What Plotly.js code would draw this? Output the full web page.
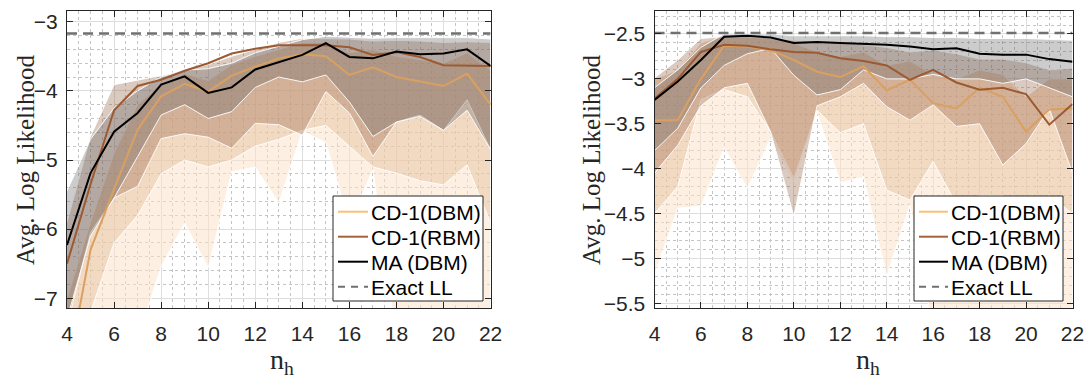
<!DOCTYPE html>
<html><head><meta charset="utf-8">
<script src="https://cdn.plot.ly/plotly-3.0.1.min.js"></script>
<style>html,body{margin:0;padding:0;background:#fff}#chart{width:1086px;height:381px}</style>
</head><body><div id="chart"></div>
<script>
// hidden units n_h
const nh = [4,5,6,7,8,9,10,11,12,13,14,15,16,17,18,19,20,21,22];

// ---------- Left panel ----------
const maL   = [-6.23,-5.19,-4.59,-4.32,-3.91,-3.79,-4.03,-3.95,-3.69,-3.58,-3.48,-3.31,-3.51,-3.53,-3.43,-3.47,-3.46,-3.40,-3.64];
const rbmL  = [-6.50,-5.35,-4.28,-3.93,-3.84,-3.71,-3.60,-3.46,-3.39,-3.34,-3.34,-3.34,-3.37,-3.48,-3.44,-3.51,-3.63,-3.64,-3.64];
const dbmL  = [-8.10,-6.30,-5.42,-4.56,-4.08,-3.90,-4.01,-3.78,-3.65,-3.53,-3.47,-3.50,-3.77,-3.66,-3.80,-3.86,-3.93,-3.75,-4.20];
const maUpL = [-5.45,-4.70,-4.25,-4.00,-3.80,-3.70,-3.68,-3.60,-3.45,-3.35,-3.26,-3.21,-3.23,-3.24,-3.23,-3.23,-3.24,-3.23,-3.25];
const maLoL = [-7.30,-6.10,-5.55,-4.95,-4.35,-4.20,-4.40,-4.30,-3.95,-3.80,-3.87,-3.77,-4.16,-4.66,-4.45,-4.37,-4.57,-4.28,-4.85];
const rbmUpL= [-5.90,-4.66,-3.91,-3.85,-3.78,-3.70,-3.62,-3.50,-3.40,-3.30,-3.24,-3.24,-3.25,-3.28,-3.27,-3.28,-3.30,-3.29,-3.30];
const rbmLoL= [-7.40,-6.05,-5.55,-5.38,-4.69,-4.62,-4.67,-4.83,-4.47,-4.49,-4.64,-4.01,-4.32,-4.95,-4.45,-4.35,-4.57,-4.13,-4.85];
const dbmUpL= [-7.00,-5.90,-4.90,-4.20,-3.90,-3.75,-3.85,-3.62,-3.50,-3.40,-3.30,-3.30,-3.45,-3.40,-3.50,-3.55,-3.60,-3.45,-3.70];
const dbmInLoL=[-8.20,-7.20,-6.20,-5.80,-5.20,-5.00,-5.10,-5.00,-4.80,-4.70,-4.57,-4.50,-4.80,-5.10,-5.19,-5.30,-5.36,-5.07,-5.91];
const dbmOutLoL=[-8.50,-8.50,-8.00,-7.60,-6.54,-5.91,-6.56,-5.17,-5.10,-5.62,-4.58,-4.75,-5.90,-5.14,-7.60,-7.80,-7.80,-7.80,-7.80];
const exactL = -3.17;

// ---------- Right panel ----------
const maR   = [-3.235,-3.03,-2.79,-2.53,-2.52,-2.54,-2.60,-2.59,-2.60,-2.61,-2.62,-2.64,-2.67,-2.66,-2.72,-2.73,-2.73,-2.78,-2.81];
const rbmR  = [-3.22,-3.00,-2.70,-2.62,-2.63,-2.67,-2.70,-2.71,-2.77,-2.80,-2.85,-3.01,-2.90,-3.04,-3.12,-3.10,-3.17,-3.51,-3.28];
const dbmR  = [-3.46,-3.46,-3.00,-2.63,-2.64,-2.68,-2.79,-2.92,-2.98,-2.86,-3.13,-3.01,-3.27,-3.33,-3.10,-3.20,-3.59,-3.34,-3.33];
const maUpR = [-3.10,-2.90,-2.65,-2.50,-2.50,-2.50,-2.52,-2.52,-2.52,-2.52,-2.53,-2.53,-2.54,-2.54,-2.55,-2.55,-2.55,-2.56,-2.57];
const maLoR = [-3.80,-3.55,-3.10,-2.85,-2.72,-2.66,-2.96,-3.18,-3.12,-2.90,-3.00,-3.00,-2.95,-3.00,-3.00,-3.05,-3.00,-3.10,-3.20];
const rbmUpR= [-2.99,-2.79,-2.55,-2.53,-2.53,-2.55,-2.57,-2.58,-2.60,-2.62,-2.65,-2.70,-2.68,-2.72,-2.78,-2.78,-2.82,-2.90,-2.88];
const rbmLoR= [-4.05,-3.74,-3.30,-3.10,-3.05,-3.59,-4.53,-3.30,-3.20,-3.05,-3.31,-3.46,-3.29,-3.53,-3.50,-3.96,-3.72,-3.33,-4.05];
const dbmUpR= [-3.00,-2.90,-2.60,-2.52,-2.52,-2.55,-2.60,-2.70,-2.75,-2.70,-2.85,-2.80,-2.95,-3.00,-2.90,-2.95,-3.20,-3.00,-3.00];
const dbmInLoR=[-4.50,-4.20,-3.23,-3.12,-3.20,-3.59,-4.11,-3.35,-3.60,-3.50,-4.24,-4.35,-3.92,-4.40,-4.30,-4.30,-4.50,-4.30,-4.50];
const dbmOutLoR=[-5.18,-4.44,-4.42,-3.77,-4.22,-3.66,-4.15,-3.37,-4.16,-4.09,-5.20,-4.40,-5.80,-5.80,-5.80,-5.80,-5.80,-5.80,-5.80];
const exactR = -2.49;

const seriesNames = ['CD-1(DBM)','CD-1(RBM)','MA (DBM)','Exact LL'];

const C = {
  dbmLine:'#d9a060', rbmLine:'#9c5a32', maLine:'#000000',
  dbmLeg:'#fbbf77', rbmLeg:'#a5623a', exact:'#707070',
  dbmOut:'rgba(252,225,200,0.55)', dbmIn:'rgba(220,170,130,0.32)',
  rbm:'rgba(150,100,70,0.34)', ma:'rgba(100,100,100,0.33)'
};

function band(up, lo, color, xa, ya){
  return {x: nh.concat(nh.slice().reverse()), y: up.concat(lo.slice().reverse()),
    type:'scatter', mode:'lines', fill:'toself', fillcolor:color,
    line:{color:'rgba(255,255,255,0.9)', width:1}, hoverinfo:'skip', showlegend:false, xaxis:xa, yaxis:ya};
}
function line(y, color, xa, ya){
  return {x: nh, y: y, type:'scatter', mode:'lines', line:{color:color, width:2},
    showlegend:false, xaxis:xa, yaxis:ya};
}
function exact(v, xa, ya){
  return {x:[nh[0], nh[nh.length-1]], y:[v, v], type:'scatter', mode:'lines',
    line:{color:C.exact, width:2.5, dash:'10px,6px'}, showlegend:false, xaxis:xa, yaxis:ya};
}

const data = [
  band(dbmUpL, dbmOutLoL, C.dbmOut,'x','y'),
  band(dbmUpL, dbmInLoL, C.dbmIn,'x','y'),
  band(rbmUpL, rbmLoL, C.rbm,'x','y'),
  band(maUpL, maLoL, C.ma,'x','y'),
  line(dbmL, C.dbmLine,'x','y'),
  line(rbmL, C.rbmLine,'x','y'),
  line(maL, C.maLine,'x','y'),
  exact(exactL,'x','y'),
  band(dbmUpR, dbmOutLoR, C.dbmOut,'x2','y2'),
  band(dbmUpR, dbmInLoR, C.dbmIn,'x2','y2'),
  band(rbmUpR, rbmLoR, C.rbm,'x2','y2'),
  band(maUpR, maLoR, C.ma,'x2','y2'),
  line(dbmR, C.dbmLine,'x2','y2'),
  line(rbmR, C.rbmLine,'x2','y2'),
  line(maR, C.maLine,'x2','y2'),
  exact(exactR,'x2','y2')
];

const tickFont = {family:'Liberation Sans, Arial, sans-serif', size:21, color:'#262626'};
function xax(domain, anchor){
  return {domain:domain, anchor:anchor, range:[4,22], tickmode:'linear', tick0:4, dtick:2,
    ticks:'inside', ticklen:6, tickcolor:'#262626', showline:true, linecolor:'#262626', linewidth:1,
    mirror:'ticks', showgrid:true, gridcolor:'#dedede', gridwidth:1, zeroline:false,
    tickfont:tickFont, ticklabelstandoff:6,
    minor:{dtick:0.5, tick0:4, showgrid:true, gridcolor:'#c4c4c4', griddash:'dot', gridwidth:1, ticks:''}};
}
function yax(domain, anchor, range, dtick, minorDtick, tick0){
  return {domain:domain, anchor:anchor, range:range, tickmode:'linear', tick0:tick0, dtick:dtick,
    ticks:'inside', ticklen:6, tickcolor:'#262626', showline:true, linecolor:'#262626', linewidth:1,
    mirror:'ticks', showgrid:true, gridcolor:'#dedede', gridwidth:1, zeroline:false,
    tickfont:tickFont, ticklabelstandoff:4,
    minor:{dtick:minorDtick, tick0:tick0, showgrid:true, gridcolor:'#c4c4c4', griddash:'dot', gridwidth:1, ticks:''}};
}

const W=1086, H=381;
const px = v => v/W, py = v => (H-v)/H;
const ydom=[py(308.3), py(11)];
const serif='Liberation Serif, Times New Roman, serif';
const sans='Liberation Sans, Arial, sans-serif';

// manual legends (box, line samples, text)
const shapes=[], annotations=[];
const legCols=[C.dbmLeg, C.rbmLeg, '#000000', C.exact];
const rowY=[211.7, 236.7, 261.7, 286.7];
function addLegend(x0, x1, lx0, lx1, tx){
  shapes.push({type:'rect', xref:'paper', yref:'paper', x0:px(x0), x1:px(x1), y0:py(301), y1:py(196),
    fillcolor:'#ffffff', line:{color:'#262626', width:1}, layer:'above'});
  seriesNames.forEach((n,i)=>{
    shapes.push({type:'line', xref:'paper', yref:'paper', x0:px(lx0), x1:px(lx1), y0:py(rowY[i]), y1:py(rowY[i]),
      line:{color:legCols[i], width:2, dash: i===3?'7px,6px':'solid'}, layer:'above'});
    annotations.push({text:n, xref:'paper', yref:'paper', x:px(tx), y:py(rowY[i]+1), xanchor:'left', yanchor:'middle',
      showarrow:false, font:{family:sans, size:21, color:'#000'}, borderpad:0});
  });
}
addLegend(333, 483, 338, 368, 370);
addLegend(914, 1063, 919, 948, 950);

annotations.push(
  {text:'Avg. Log Likelihood', xref:'paper', yref:'paper', x:px(25), y:py(160), textangle:-90,
   showarrow:false, xanchor:'center', yanchor:'middle', font:{family:serif, size:25, color:'#262626'}},
  {text:'Avg. Log Likelihood', xref:'paper', yref:'paper', x:px(591), y:py(160), textangle:-90,
   showarrow:false, xanchor:'center', yanchor:'middle', font:{family:serif, size:25, color:'#262626'}},
  {text:'n<sub>h</sub>', xref:'paper', yref:'paper', x:px(282), y:py(380), borderpad:0,
   showarrow:false, xanchor:'center', yanchor:'bottom', font:{family:serif, size:28, color:'#262626'}},
  {text:'n<sub>h</sub>', xref:'paper', yref:'paper', x:px(868), y:py(380), borderpad:0,
   showarrow:false, xanchor:'center', yanchor:'bottom', font:{family:serif, size:28, color:'#262626'}}
);

const layout = {
  width:W, height:H, margin:{l:0,r:0,t:0,b:0}, paper_bgcolor:'#fff', plot_bgcolor:'#fff',
  xaxis: xax([px(67), px(490.6)], 'y'),
  yaxis: yax(ydom, 'x', [-7.145,-2.845], 1, 0.2, -7),
  xaxis2: xax([px(654.5), px(1072.5)], 'y2'),
  yaxis2: yax(ydom, 'x2', [-5.556,-2.244], 0.5, 0.1, -5.5),
  shapes: shapes,
  annotations: annotations,
  showlegend:false
};

Plotly.newPlot('chart', data, layout, {staticPlot:true, displayModeBar:false});
</script>
</body></html>
